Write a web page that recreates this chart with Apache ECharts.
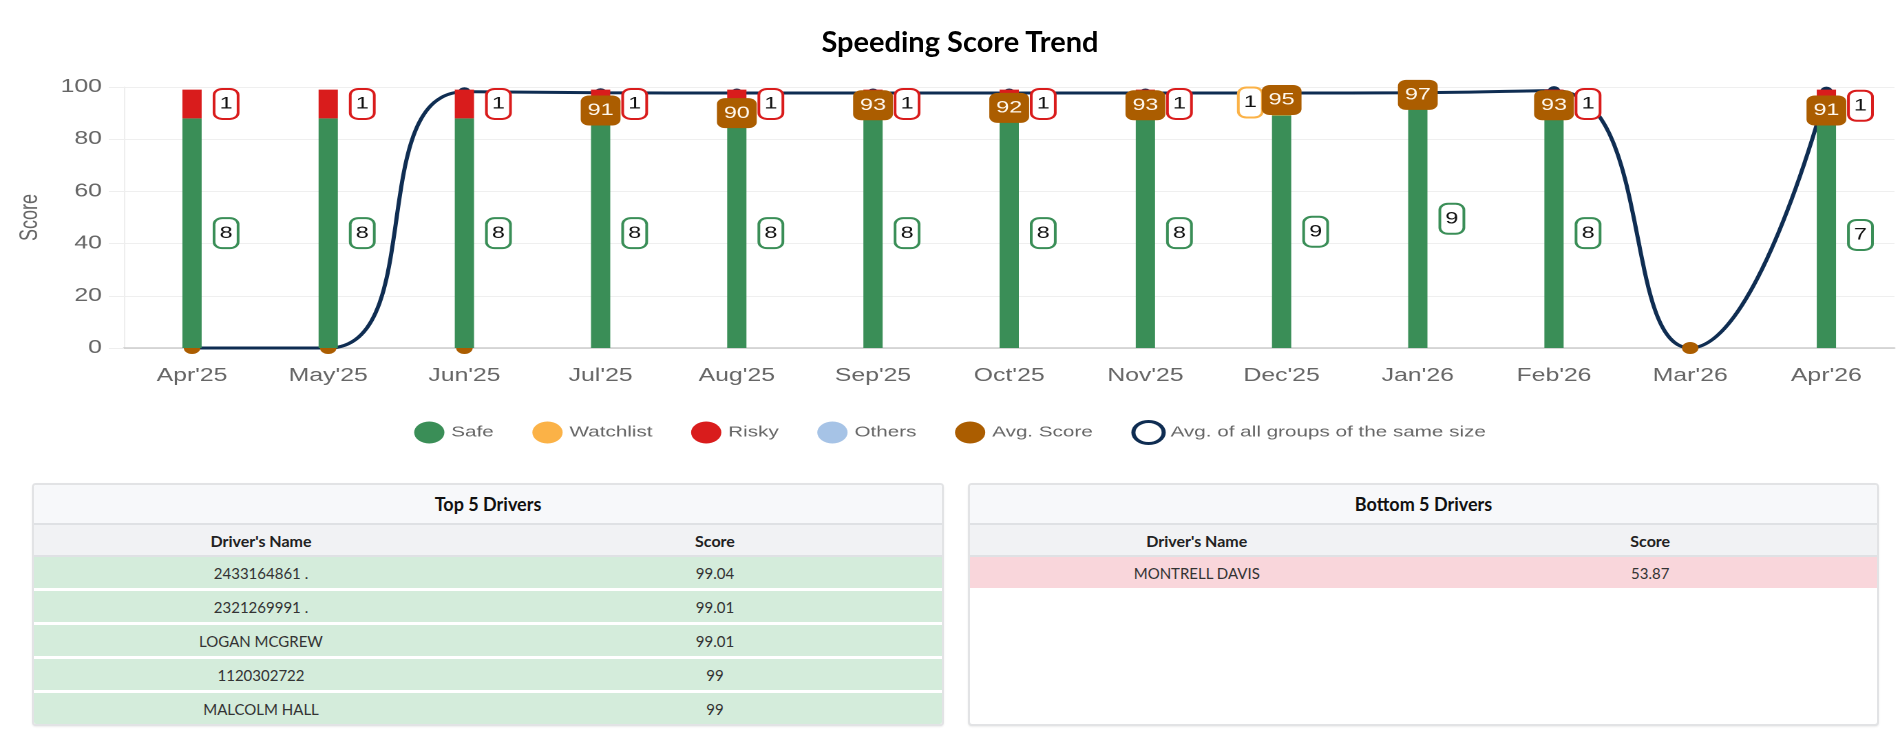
<!DOCTYPE html>
<html>
<head>
<meta charset="utf-8">
<script src="https://cdn.jsdelivr.net/npm/echarts@6/dist/echarts.min.js"></script>
<style>
  html, body { margin: 0; padding: 0; background: #fff; }
  #page { position: relative; width: 1900px; height: 752px; overflow: hidden; }
  #title {
    position: absolute; left: 10px; top: 23px; width: 1900px; text-align: center;
    font: bold 29px Lato, "Noto Sans", sans-serif; color: #000; z-index: 2;
  }
  /* chart was drawn on a narrower canvas and stretched sideways */
  #chart-1 {
    position: absolute; left: 0; top: 0; width: 1380px; height: 470px;
    transform: scaleX(1.37681); transform-origin: 0 0;
  }
  .card {
    position: absolute; top: 483px; height: 239px; background: #fff;
    border: 2px solid #e2e3e5; border-radius: 4px; overflow: hidden;
    box-shadow: 0 1px 2px rgba(0,0,0,0.08);
    font-family: Lato, "Noto Sans", sans-serif;
  }
  .card .head {
    height: 38px; line-height: 38px; background: #f7f8fa; text-align: center;
    font-weight: bold; font-size: 18px; color: #111; border-bottom: 2px solid #dfe1e4;
  }
  .card table { width: 100%; border-collapse: collapse; table-layout: fixed; }
  .card th {
    height: 30px; background: #f1f2f4; font-size: 16px; font-weight: bold; color: #222;
    border-bottom: 2px solid #dfe1e4; padding: 0;
  }
  .card td {
    height: 31px; font-size: 15px; color: #333; text-align: center; padding: 0;
    border-bottom: 3px solid #fff;
  }
  .card td.good { background: #d4ecdb; }
  .card td.bad { background: #f9d6db; }
</style>
</head>
<body>
<div id="page">
  <div id="title">Speeding Score Trend</div>
  <div id="chart-1"></div>
  <div class="card" id="top-card" style="left:32px;width:908px;"></div>
  <div class="card" id="bottom-card" style="left:968px;width:907px;"></div>
</div>
<script>
var months = ["Apr'25", "May'25", "Jun'25", "Jul'25", "Aug'25", "Sep'25", "Oct'25",
  "Nov'25", "Dec'25", "Jan'26", "Feb'26", "Mar'26", "Apr'26"];
// driver counts per group (shown in the boxes)
var safeCount = [8, 8, 8, 8, 8, 8, 8, 8, 9, 9, 8, 0, 7];
var watchCount = [0, 0, 0, 0, 0, 0, 0, 0, 1, 0, 0, 0, 0];
var riskyCount = [1, 1, 1, 1, 1, 1, 1, 1, 0, 0, 1, 0, 1];
var otherCount = [0, 0, 0, 0, 0, 0, 0, 0, 0, 0, 0, 0, 0];
var avgScore = [0, 0, 0, 91, 90, 93, 92, 93, 95, 97, 93, 0, 91];
var groupAvg = [0, 0, 98.2, 97.8, 97.7, 97.7, 97.7, 97.7, 97.7, 97.8, 98.6, 0, 98.4];
var yTicks = [0, 20, 40, 60, 80, 100];
var barTop = 99; // the stacked bar of a month reaches this score

var topDrivers = [
  ["2433164861 .", "99.04"],
  ["2321269991 .", "99.01"],
  ["LOGAN MCGREW", "99.01"],
  ["1120302722", "99"],
  ["MALCOLM HALL", "99"]
];
var bottomDrivers = [
  ["MONTRELL DAVIS", "53.87"]
];

var colSafe = "#3a8e57", colWatch = "#fbb247", colRisky = "#d91c1c",
  colOther = "#a6c3e6", colAvg = "#ab5d00", colGroup = "#0f2d52";
var font = "'Liberation Sans', Arial, sans-serif";

function totalAt(i) {
  return safeCount[i] + watchCount[i] + riskyCount[i] + otherCount[i];
}

function barData(counts, labelColor) {
  return counts.map(function (n, i) {
    var t = totalAt(i);
    return {
      value: t ? n / t * barTop : 0,
      count: n,
      label: { show: n > 0, borderColor: labelColor }
    };
  });
}

var countLabel = {
  show: true,
  position: "right",
  distance: 10,
  formatter: function (p) { return p.data.count; },
  color: "#111",
  fontFamily: font,
  fontSize: 17,
  lineHeight: 17,
  backgroundColor: "#fff",
  borderWidth: 2,
  borderRadius: 5,
  padding: [6, 3, 5, 3]
};

function barSeries(name, counts, color, labelPos) {
  var lab = Object.assign({}, countLabel, { borderColor: color });
  if (labelPos) { lab.position = labelPos; lab.distance = 8; }
  return {
    name: name,
    type: "bar",
    stack: "total",
    barWidth: 14,
    z: 2,
    color: color,
    label: lab,
    data: barData(counts, color)
  };
}

var dom = document.getElementById("chart-1");
var Chart1 = echarts.init(dom, null, { renderer: "canvas", devicePixelRatio: 2 });

var option = {
  animation: false,
  textStyle: { fontFamily: font },
  legend: {
    top: 415,
    left: "center",
    itemWidth: 22,
    itemHeight: 22,
    itemGap: 28,
    icon: "circle",
    textStyle: { color: "#666", fontSize: 15, fontFamily: font },
    data: [
      "Safe", "Watchlist", "Risky", "Others", "Avg. Score",
      {
        name: "Avg. of all groups of the same size",
        icon: "circle",
        itemStyle: { color: "#fff", borderColor: colGroup, borderWidth: 3 }
      }
    ]
  },
  grid: { left: 90, right: 4, top: 87, height: 261 },
  xAxis: {
    type: "category",
    data: months,
    axisTick: { show: false },
    axisLine: { lineStyle: { color: "#ccc", width: 1.5 } },
    axisLabel: { color: "#666", fontSize: 18, margin: 19, fontFamily: font }
  },
  yAxis: {
    type: "value",
    min: yTicks[0],
    max: yTicks[yTicks.length - 1],
    interval: yTicks[1] - yTicks[0],
    name: "Score",
    nameLocation: "middle",
    nameGap: 59,
    nameTextStyle: { color: "#666", fontSize: 18, fontFamily: font },
    axisLine: { show: true, lineStyle: { color: "#eee" } },
    axisTick: { show: true, length: 11, lineStyle: { color: "#eee" } },
    splitLine: { lineStyle: { color: "#efefef" } },
    axisLabel: { color: "#666", fontSize: 18, margin: 16, fontFamily: font }
  },
  series: [
    barSeries("Safe", safeCount, colSafe),
    barSeries("Watchlist", watchCount, colWatch, "left"),
    barSeries("Risky", riskyCount, colRisky),
    barSeries("Others", otherCount, colOther),
    {
      name: "Avg. Score",
      type: "scatter",
      symbolSize: 12,
      z: 1.5,
      itemStyle: { color: colAvg, opacity: 1 },
      data: avgScore
    },
    {
      // labels of the average score sit above the bars
      name: "Avg. Score",
      type: "scatter",
      symbolSize: 1,
      z: 5,
      itemStyle: { color: "transparent", opacity: 1 },
      label: {
        show: true,
        position: "inside",
        color: "#fff8ee",
        fontFamily: font,
        fontSize: 17,
        lineHeight: 17,
        backgroundColor: colAvg,
        borderRadius: 6,
        padding: [7, 5, 6, 5]
      },
      data: avgScore.map(function (v) {
        return { value: v, label: { show: v > 0 } };
      })
    },
    {
      name: "Avg. of all groups of the same size",
      type: "line",
      smooth: true,
      symbol: "circle",
      symbolSize: 9,
      z: 1,
      color: colGroup,
      lineStyle: { width: 3, color: colGroup },
      data: groupAvg
    }
  ]
};

if (option && typeof option === "object") {
  Chart1.setOption(option);
}

/** tables **/
function fillCard(id, title, rows, cls) {
  var html = '<div class="head">' + title + '</div><table><tr><th>Driver\'s Name</th><th>Score</th></tr>';
  rows.forEach(function (r) {
    html += '<tr><td class="' + cls + '">' + r[0] + '</td><td class="' + cls + '">' + r[1] + '</td></tr>';
  });
  html += '</table>';
  document.getElementById(id).innerHTML = html;
}
fillCard("top-card", "Top 5 Drivers", topDrivers, "good");
fillCard("bottom-card", "Bottom 5 Drivers", bottomDrivers, "bad");
</script>
</body>
</html>
